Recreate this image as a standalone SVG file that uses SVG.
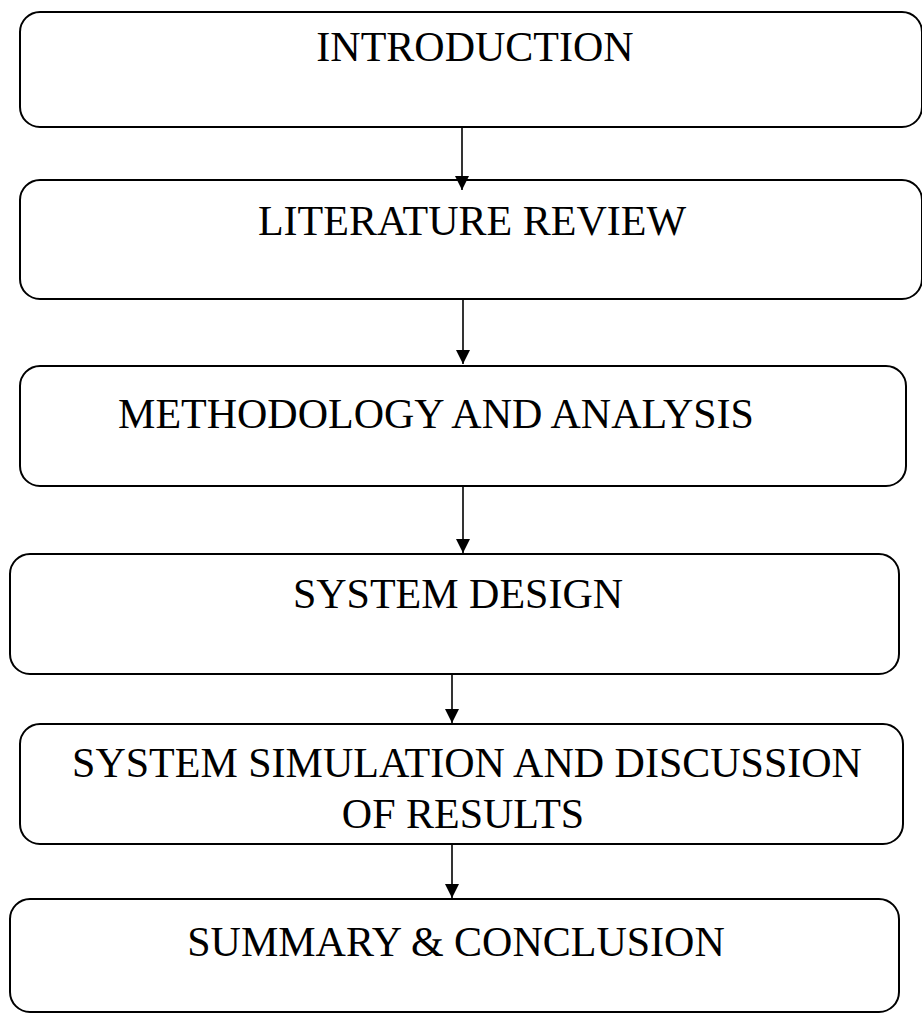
<svg xmlns="http://www.w3.org/2000/svg" width="922" height="1016" viewBox="0 0 922 1016">
<style>
.box{fill:#fff;stroke:#000;stroke-width:2}
.lbl{font-family:"Liberation Serif","Times New Roman",serif;font-size:42px;fill:#000;text-anchor:middle}
.conn{stroke:#000;stroke-width:1.6;fill:none}
</style>
<defs>
<marker id="ah" markerUnits="userSpaceOnUse" markerWidth="14" markerHeight="18" refX="14" refY="7" orient="auto" viewBox="0 0 14 14">
<path d="M0,0 L14,7 L0,14 Z" fill="#000"/>
</marker>
</defs>
<rect width="922" height="1016" fill="#fff"/>
<g id="n1"><rect class="box" x="20" y="12" width="902" height="115" rx="20"/><text class="lbl" x="475" y="61">INTRODUCTION</text></g>
<g id="n2"><rect class="box" x="20" y="180" width="902" height="119" rx="20"/><text class="lbl" x="472" y="235">LITERATURE REVIEW</text></g>
<g id="n3"><rect class="box" x="20" y="366" width="886" height="120" rx="20"/><text class="lbl" x="436" y="428">METHODOLOGY AND ANALYSIS</text></g>
<g id="n4"><rect class="box" x="10" y="554" width="889" height="120" rx="20"/><text class="lbl" x="458" y="608">SYSTEM DESIGN</text></g>
<g id="n5"><rect class="box" x="20" y="724" width="883" height="120" rx="20"/><text class="lbl" x="467" y="777">SYSTEM SIMULATION AND DISCUSSION</text><text class="lbl" x="463" y="828">OF RESULTS</text></g>
<g id="n6"><rect class="box" x="10" y="899" width="889" height="113" rx="20"/><text class="lbl" x="456" y="956">SUMMARY &amp; CONCLUSION</text></g>
<g id="connectors">
<line class="conn" x1="462" y1="127" x2="462" y2="190" marker-end="url(#ah)"/>
<line class="conn" x1="463" y1="299" x2="463" y2="364" marker-end="url(#ah)"/>
<line class="conn" x1="463" y1="486" x2="463" y2="553" marker-end="url(#ah)"/>
<line class="conn" x1="452" y1="674" x2="452" y2="723" marker-end="url(#ah)"/>
<line class="conn" x1="452" y1="844" x2="452" y2="898" marker-end="url(#ah)"/>
</g>
</svg>
